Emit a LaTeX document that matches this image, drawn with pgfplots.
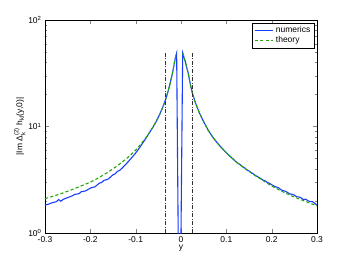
\documentclass[border=0pt]{standalone}
\usepackage{amsmath}
\usepackage{pgfplots}
\pgfplotsset{compat=1.18}
\usepackage{fontspec}
\setmainfont{Liberation Sans}
\definecolor{numblue}{RGB}{25,60,255}
\definecolor{thgreen}{RGB}{40,165,10}
\begin{document}
\begin{tikzpicture}
\path[use as bounding box] (-45bp,-30bp) rectangle (305bp,20bp+213bp);
\begin{axis}[
  at={(0,0)}, anchor=south west,
  scale only axis, width=272bp, height=213bp,
  ymode=log, xmin=-0.3, xmax=0.3, ymin=1, ymax=100,
  font=\fontsize{8.5}{10}\selectfont,
  xtick={-0.3,-0.2,-0.1,0,0.1,0.2,0.3},
  xticklabels={-0.3,-0.2,-0.1,0,0.1,0.2,0.3},
  ytick={1,10,100},
  yticklabels={10\textsuperscript{0},10\textsuperscript{1},10\textsuperscript{2}},
  tick align=inside,
  major tick length=4bp, minor tick length=2.5bp,
  xlabel={y},
  ylabel={|Im Δ$^{\text{(2)}}_{\text{k}}$ h$_{\text{kl}}$(y,0)|},
  xlabel style={yshift=4bp},
  ylabel style={yshift=-4bp},
  legend style={at={(0.989,0.986)}, anchor=north east, draw=black, font=\fontsize{8.5}{10}\selectfont, inner sep=1.5pt, row sep=-1.5pt},
  legend cell align=left,
  legend image post style={xscale=1.1},
  unbounded coords=jump,
  clip=true,
]
\addplot[numblue, line width=1.1pt] coordinates {
(-0.300,1.83) (-0.295,1.85) (-0.290,1.88) (-0.285,1.92) (-0.280,1.94)
(-0.275,1.97) (-0.270,2.06) (-0.265,1.99) (-0.260,2.07) (-0.255,2.11)
(-0.250,2.15) (-0.245,2.19) (-0.240,2.23) (-0.235,2.30) (-0.230,2.32)
(-0.225,2.34) (-0.220,2.44) (-0.215,2.46) (-0.210,2.49) (-0.205,2.56)
(-0.200,2.64) (-0.195,2.68) (-0.190,2.71) (-0.185,2.82) (-0.180,2.94)
(-0.175,2.98) (-0.170,3.12) (-0.165,3.16) (-0.160,3.22) (-0.155,3.37)
(-0.150,3.52) (-0.145,3.60) (-0.140,3.80) (-0.135,3.88) (-0.130,4.06)
(-0.125,4.27) (-0.120,4.50) (-0.115,4.75) (-0.110,5.02) (-0.105,5.31)
(-0.100,5.64) (-0.095,6.02) (-0.090,6.45) (-0.085,6.94) (-0.080,7.45)
(-0.075,8.05) (-0.070,8.71) (-0.065,9.38) (-0.060,10.17) (-0.055,11.1)
(-0.050,12.2) (-0.045,13.6) (-0.040,15.25) (-0.035,17.4) (-0.030,20.3)
(-0.025,24.4) (-0.020,30.0) (-0.017,34.7) (-0.014,40.7) (-0.012,45.0)
(-0.0096,49.0) (-0.0062,1.0) (-0.0060,0.01) (-0.0003,0.01) (0.0,1.0)
(0.0037,49.0) (0.007,44.0) (0.010,40.0) (0.013,35.5) (0.016,31.6)
(0.020,25.5) (0.025,20.7) (0.030,17.6) (0.035,15.4) (0.040,13.6)
(0.045,12.2) (0.050,11.1) (0.055,10.1) (0.060,9.25) (0.065,8.57)
(0.070,7.97) (0.075,7.47) (0.080,7.02) (0.085,6.63) (0.090,6.28)
(0.095,5.96) (0.100,5.67) (0.105,5.41) (0.110,5.16) (0.115,4.94)
(0.120,4.72) (0.125,4.53) (0.130,4.40) (0.135,4.21) (0.140,4.10)
(0.145,3.92) (0.150,3.82) (0.155,3.69) (0.160,3.58) (0.165,3.45)
(0.170,3.36) (0.175,3.27) (0.180,3.15) (0.185,3.10) (0.190,2.99)
(0.195,2.93) (0.200,2.84) (0.205,2.76) (0.210,2.70) (0.215,2.66)
(0.220,2.56) (0.225,2.50) (0.230,2.47) (0.235,2.40) (0.240,2.33)
(0.245,2.31) (0.250,2.27) (0.255,2.19) (0.260,2.18) (0.265,2.14)
(0.270,2.06) (0.275,2.08) (0.280,2.01) (0.285,1.97) (0.290,1.97)
(0.295,1.90) (0.300,1.83)
};
\addlegendentry{numerics}
\addplot[thgreen, line width=1.1pt, dash pattern=on 3.2bp off 2.2bp] coordinates {
(-0.30,2.10) (-0.28,2.23) (-0.26,2.38) (-0.24,2.56) (-0.22,2.77)
(-0.20,3.00) (-0.18,3.33) (-0.16,3.75) (-0.14,4.29) (-0.12,5.00)
(-0.10,6.00) (-0.09,6.72) (-0.08,7.60) (-0.07,8.70) (-0.06,10.2)
(-0.05,12.2) (-0.04,15.2) (-0.035,17.4) (-0.03,20.3) (-0.025,24.4)
(-0.02,30.0) (-0.017,34.7) (-0.014,40.7) (-0.012,45.0) (-0.0096,49.0)
(-0.003,nan)
(0.0037,49.0) (0.007,44.0) (0.010,40.0) (0.013,35.5) (0.016,31.6)
(0.020,25.5) (0.025,20.7) (0.030,17.6) (0.035,15.4) (0.040,13.6)
(0.050,11.1) (0.060,9.20) (0.070,7.97) (0.080,7.00) (0.090,6.28)
(0.100,5.67) (0.120,4.72) (0.140,4.06) (0.160,3.54) (0.180,3.13)
(0.200,2.76) (0.220,2.49) (0.240,2.27) (0.260,2.09) (0.280,1.94)
(0.300,1.80)
};
\addlegendentry{theory}
\addplot[black!80, line width=1pt, dash pattern=on 4bp off 1.5bp on 1bp off 1.5bp, forget plot] coordinates {(-0.034,1) (-0.034,50)};
\addplot[black!80, line width=1pt, dash pattern=on 4bp off 1.5bp on 1bp off 1.5bp, forget plot] coordinates {(0.026,1) (0.026,50)};
\end{axis}
\end{tikzpicture}
\end{document}
